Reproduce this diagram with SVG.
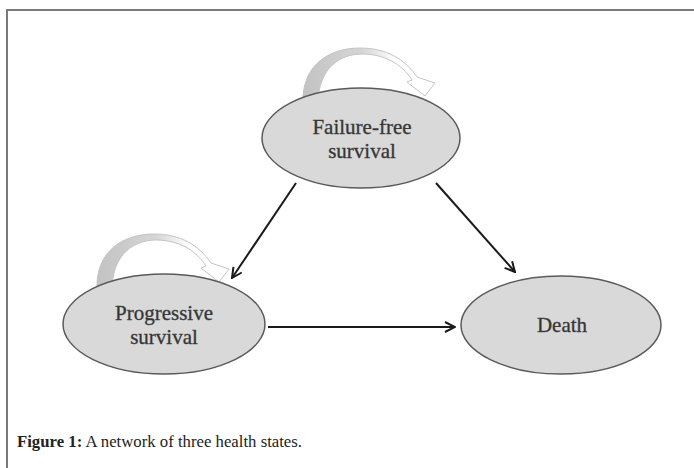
<svg xmlns="http://www.w3.org/2000/svg" width="694" height="468" viewBox="0 0 694 468">
<style>
.node ellipse{fill:#d9d9d9;stroke:#5a5a5a;stroke-width:1.5}
.lbl{font-family:"Liberation Serif","Times New Roman",serif;font-size:21px;fill:#333;stroke:#444;stroke-width:0.35;text-anchor:middle}
.conn line{stroke:#1a1a1a;stroke-width:2}
.loop{fill:url(#lg);stroke:#c4c4c4;stroke-width:1}
.cap{font-family:"Liberation Serif","Times New Roman",serif;font-size:17.5px;fill:#222}
</style>
<defs>
<linearGradient id="lg" x1="0" y1="0" x2="1" y2="0">
<stop offset="0" stop-color="#c2c2c2"/>
<stop offset="0.45" stop-color="#d6d6d6"/>
<stop offset="0.7" stop-color="#ffffff"/>
<stop offset="1" stop-color="#ffffff"/>
</linearGradient>
<marker id="ah" viewBox="0 0 12 12" refX="11" refY="6" markerWidth="12" markerHeight="12" markerUnits="userSpaceOnUse" orient="auto">
<path d="M1,1 L11,6 L1,11" fill="none" stroke="#1a1a1a" stroke-width="2"/>
</marker>
<path id="loopShape" d="M303,102 C302,66 328,48 360,48 C386,48 405,59 417,77 L435,83 L425,96 L407,82 L412,80 C402,64 384,54 362,54 C340,54 319,68 318,102 Z"/>
</defs>
<g id="frame" fill="none" stroke="#7a7a7a" stroke-width="2">
<path d="M7,468 L7,10 L694,10"/>
</g>
<g id="selfloops">
<use href="#loopShape" class="loop"/>
<use href="#loopShape" class="loop" transform="translate(-206,186)"/>
</g>
<g id="node-failure-free" class="node">
<ellipse cx="361" cy="138" rx="99" ry="50"/>
<text class="lbl" x="362" y="134">Failure-free</text>
<text class="lbl" x="362" y="158">survival</text>
</g>
<g id="node-progressive" class="node">
<ellipse cx="164" cy="324" rx="101" ry="50"/>
<text class="lbl" x="164" y="320">Progressive</text>
<text class="lbl" x="164" y="344">survival</text>
</g>
<g id="node-death" class="node">
<ellipse cx="561" cy="325" rx="100" ry="49"/>
<text class="lbl" x="562" y="332">Death</text>
</g>
<g id="connectors" class="conn">
<line x1="296" y1="183" x2="232" y2="278" marker-end="url(#ah)"/>
<line x1="436" y1="183" x2="515" y2="272" marker-end="url(#ah)"/>
<line x1="268" y1="327" x2="455" y2="327" marker-end="url(#ah)"/>
</g>
<text class="cap" x="17" y="447" textLength="285" lengthAdjust="spacingAndGlyphs"><tspan font-weight="bold">Figure 1:</tspan> A network of three health states.</text>
</svg>
